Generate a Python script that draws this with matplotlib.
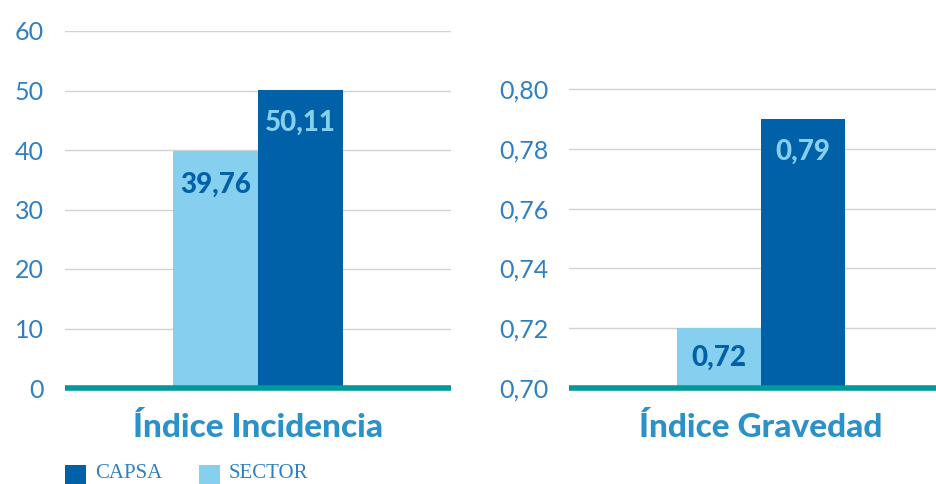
import matplotlib.pyplot as plt
from matplotlib.patches import Rectangle
import matplotlib.ticker as mticker

series = ["CAPSA", "SECTOR"]
indices = ["Índice Incidencia", "Índice Gravedad"]
capsa = [50.11, 0.79]
sector = [39.76, 0.72]
yticks = [[0, 10, 20, 30, 40, 50, 60], [0.70, 0.72, 0.74, 0.76, 0.78, 0.80]]
ylims = [(0, 60), (0.70, 0.8194)]
decimals = [0, 2]

DARK = "#0061a8"
LIGHT = "#87cfef"
TEAL = "#00999a"
TICK = "#2f7fc1"
TITLE = "#2b91c9"
GRID = "#d2d2d2"

plt.rcParams["font.family"] = ["Lato", "DejaVu Sans"]

fig = plt.figure(figsize=(9.36, 4.84), dpi=100)
W, H = 936, 484


def px_axes(x0, x1, ytop, ybot):
    return fig.add_axes([x0 / W, 1 - ybot / H, (x1 - x0) / W, (ybot - ytop) / H])


axes = [px_axes(65, 451, 31, 388), px_axes(569, 953, 31, 388)]
bw = 0.44

for i, ax in enumerate(axes):
    lo, hi = ylims[i]
    ax.set_xlim(-1, 1)
    ax.set_ylim(lo, hi)
    ax.bar([-bw / 2], [sector[i] - lo], bottom=lo, width=bw, color=LIGHT, zorder=2)
    ax.bar([bw / 2], [capsa[i] - lo], bottom=lo, width=bw, color=DARK, zorder=2)
    ax.axhline(lo, color=TEAL, lw=4, zorder=3, solid_capstyle="butt", clip_on=False)

    for spine in ax.spines.values():
        spine.set_visible(False)
    ax.set_yticks(yticks[i])
    ax.yaxis.set_major_formatter(mticker.FuncFormatter(
        lambda v, _, d=decimals[i]: f"{v:.{d}f}".replace(".", ",")))
    ax.tick_params(axis="y", length=0, pad=15, labelsize=18, labelcolor=TICK)
    ax.grid(axis="y", color=GRID, lw=1, zorder=0)
    ax.set_axisbelow(True)

    ax.set_xticks([0])
    ax.set_xticklabels([indices[i]], fontsize=24, fontweight="black", color=TITLE, va="center")
    ax.tick_params(axis="x", length=0, pad=28)

    # value labels inside the bars
    px_per_unit = (388 - 31) / (hi - lo)
    for x, v, col in [(-bw / 2, sector[i], DARK), (bw / 2, capsa[i], LIGHT)]:
        h_px = (v - lo) * px_per_unit
        off = min(33, h_px / 2) * 0.72
        txt = f"{v:.2f}".replace(".", ",")
        ax.annotate(txt, (x, v), xytext=(0, -off), textcoords="offset points",
                    ha="center", va="center", fontsize=20, fontweight="black",
                    color=col, zorder=4)

# legend
for (x0, color, name) in [(65, DARK, series[0]), (199, LIGHT, series[1])]:
    fig.add_artist(Rectangle((x0 / W, 0), 21 / W, 19 / H, transform=fig.transFigure,
                             facecolor=color, edgecolor="none"))
    fig.text((x0 + 30) / W, 1 - 474 / H, name, fontsize=15, color=TICK,
             family=["Liberation Serif", "DejaVu Serif"], va="center", ha="left")

fig.savefig("out.png", dpi=100)
